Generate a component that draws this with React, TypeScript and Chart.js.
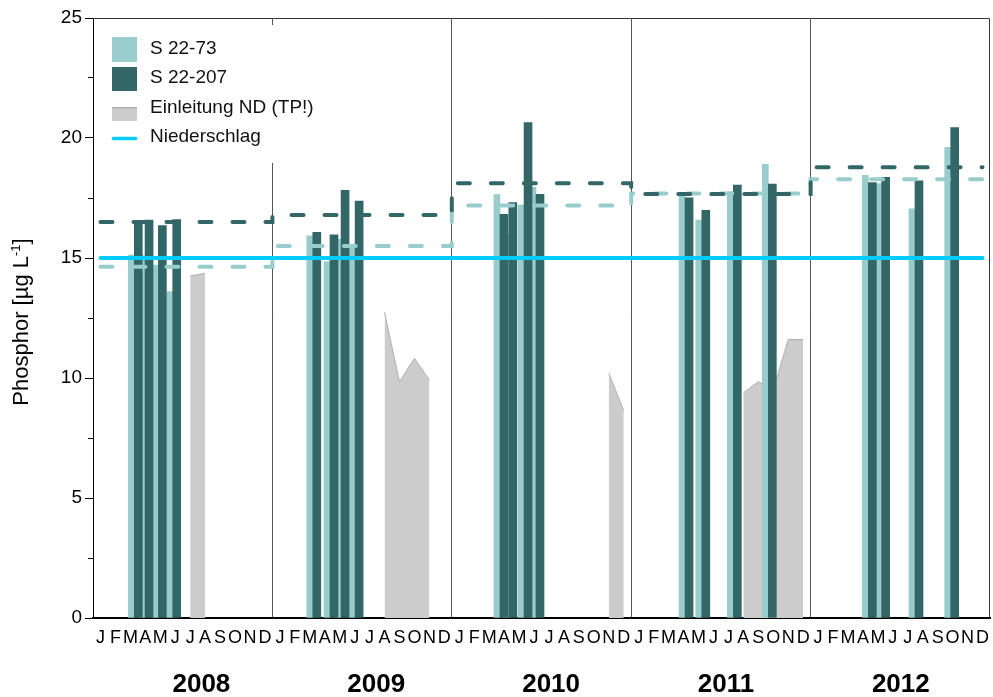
import React, { useEffect, useRef } from 'react';
import { Chart, registerables } from 'chart.js';

Chart.register(...registerables);

const FONT = 'Liberation Sans, Arial, Helvetica, sans-serif';

// axis labels
const monthLetters = ['J', 'F', 'M', 'A', 'M', 'J', 'J', 'A', 'S', 'O', 'N', 'D'];
const years = [2008, 2009, 2010, 2011, 2012];

// sampling dates, in months since 1 Jan 2008
const sampleMonths = [
  2.76, 3.48, 4.37, 5.33,
  14.7, 15.85, 16.59, 17.53,
  27.22, 27.81, 28.83, 29.63,
  39.6, 40.72, 42.83, 45.17,
  51.86, 52.75, 54.98, 57.37,
];
// S 22-73 (µg/L)
const s2273 = [
  15.12, 15.1, 14.7, 13.6,
  15.92, 14.85, 15.78, 15.5,
  17.64, 15.96, 17.2, 17.94,
  17.6, 16.58, 17.76, 18.9,
  18.44, 18.1, 17.05, 19.61,
];
// S 22-207 (µg/L)
const s22207 = [
  16.54, 16.58, 16.35, 16.6,
  16.07, 15.97, 17.82, 17.37,
  16.82, 17.31, 20.64, 17.65,
  17.51, 16.99, 18.04, 18.08,
  18.14, 18.36, 18.22, 20.43,
];
// yearly means (dashed lines)
const mean2273 = [14.64, 15.5, 17.19, 17.69, 18.28];
const mean22207 = [16.5, 16.79, 18.11, 17.67, 18.78];

// Einleitung ND (TP!) – monthly values, null = no inflow
const einleitungMonths = [6.5, 7.5, 8.5, 19.5, 20.5, 21.5, 22.5, 23.5, 34.5, 35.5, 36.5, 43.5, 44.5, 45.5, 46.5, 47.5];
const einleitungValues = [14.25, 14.36, null, 12.74, 9.85, 10.82, 9.92, null, 10.2, 8.65, null, 9.38, 9.85, 9.5, 11.6, 11.6];

// Niederschlag
const niederschlagMonths = [0.5, 59.5];
const niederschlagValues = [15, 15];

const LIGHT = '#99CCCC';
const DARK = '#336666';
const GREY = '#CCCCCC';
const CYAN = '#00CCFF';

export default function App() {
  const ref = useRef<HTMLCanvasElement>(null);

  useEffect(() => {
    document.body.style.margin = '0';
    const canvas = ref.current;
    if (!canvas) return;

    const LIGHT_SHIFT = 0.2;
    const DARK_SHIFT = 0.27;
    const lightData = sampleMonths.map((m, i) => ({ x: m - LIGHT_SHIFT, y: s2273[i] }));
    const darkData = sampleMonths.map((m, i) => ({ x: m + DARK_SHIFT, y: s22207[i] }));
    const stepXs = [0.5, ...years.slice(1).map((_, i) => (i + 1) * 12), 59.5];
    const stepLine = (means: number[]) =>
      stepXs.map((x, i) => ({ x, y: means[Math.min(i, means.length - 1)] }));
    const greyData = einleitungMonths.map((m, i) => ({ x: m, y: einleitungValues[i] }));
    const rainData = niederschlagMonths.map((m, i) => ({ x: m, y: niederschlagValues[i] }));

    const decor = {
      id: 'decor',
      afterDraw(chart: any) {
        const { ctx, chartArea: ca, scales } = chart;
        const ys = scales.y;
        const xs = scales.x;
        ctx.save();
        // frame
        ctx.strokeStyle = '#333';
        ctx.lineWidth = 1;
        ctx.beginPath();
        ctx.moveTo(ca.left, ca.top + 0.5);
        ctx.lineTo(ca.right - 0.5, ca.top + 0.5);
        ctx.lineTo(ca.right - 0.5, ca.bottom);
        ctx.stroke();
        // minor ticks on y
        ctx.strokeStyle = '#000';
        ctx.beginPath();
        for (let v = 2.5; v < 25; v += 5) {
          const py = Math.round(ys.getPixelForValue(v) - 0.5) + 0.5;
          ctx.moveTo(ca.left - 5, py);
          ctx.lineTo(ca.left, py);
        }
        ctx.stroke();

        // legend
        const lx = ca.left + 3;
        const ly = ca.top + 7;
        ctx.fillStyle = '#fff';
        ctx.fillRect(lx, ly, 247, 138);
        const sx = ca.left + 19;
        ctx.fillStyle = LIGHT;
        ctx.fillRect(sx, ca.top + 19, 25, 25);
        ctx.fillStyle = DARK;
        ctx.fillRect(sx, ca.top + 49, 25, 24);
        ctx.fillStyle = GREY;
        ctx.fillRect(sx, ca.top + 89, 25, 14);
        ctx.strokeStyle = '#B0B0B0';
        ctx.lineWidth = 1.5;
        ctx.beginPath();
        ctx.moveTo(sx, ca.top + 89.75);
        ctx.lineTo(sx + 25, ca.top + 89.75);
        ctx.stroke();
        ctx.strokeStyle = CYAN;
        ctx.lineWidth = 3.5;
        ctx.lineCap = 'round';
        ctx.beginPath();
        ctx.moveTo(sx + 1.5, ca.top + 120.5);
        ctx.lineTo(sx + 23.5, ca.top + 120.5);
        ctx.stroke();
        ctx.fillStyle = '#111';
        ctx.font = `19px ${FONT}`;
        ctx.textBaseline = 'middle';
        ctx.textAlign = 'left';
        const tx = ca.left + 57;
        ctx.fillText('S 22-73', tx, ca.top + 30.5);
        ctx.fillText('S 22-207', tx, ca.top + 60);
        ctx.fillText('Einleitung ND (TP!)', tx, ca.top + 90);
        ctx.fillText('Niederschlag', tx, ca.top + 118.5);

        // small top ticks at the year boundaries
        ctx.strokeStyle = '#555';
        ctx.lineWidth = 1;
        ctx.lineCap = 'butt';
        ctx.beginPath();
        for (let i = 1; i < years.length; i++) {
          const px = Math.round(xs.getPixelForValue(i * 12) - 0.5) + 0.5;
          ctx.moveTo(px, ca.top);
          ctx.lineTo(px, ca.top + 7);
        }
        ctx.stroke();

        // y title with superscript
        ctx.translate(22, (ca.top + ca.bottom) / 2 + 4);
        ctx.rotate(-Math.PI / 2);
        ctx.fillStyle = '#000';
        const mainTxt = 'Phosphor [µg L';
        const supTxt = '-1';
        const endTxt = ']';
        ctx.font = `22px ${FONT}`;
        const w1 = ctx.measureText(mainTxt).width;
        const w3 = ctx.measureText(endTxt).width;
        ctx.font = `13px ${FONT}`;
        const w2 = ctx.measureText(supTxt).width;
        const total = w1 + w2 + w3;
        let cx = -total / 2;
        ctx.font = `22px ${FONT}`;
        ctx.fillText(mainTxt, cx, 0);
        cx += w1;
        ctx.font = `13px ${FONT}`;
        ctx.fillText(supTxt, cx, -6);
        cx += w2;
        ctx.font = `22px ${FONT}`;
        ctx.fillText(endTxt, cx, 0);
        ctx.restore();
      },
    };

    const chart = new Chart(canvas, {
      type: 'bar',
      data: {
        datasets: [
          {
            type: 'line',
            label: 'Niederschlag',
            data: rainData,
            borderColor: CYAN,
            borderWidth: 4,
            borderCapStyle: 'round',
            pointRadius: 0,
            fill: false,
          },
          {
            type: 'line',
            label: 'Mittel S 22-207',
            data: stepLine(mean22207),
            borderColor: DARK,
            borderWidth: 4,
            borderDash: [12, 21],
            borderCapStyle: 'round',
            stepped: true,
            pointRadius: 0,
            fill: false,
          },
          {
            type: 'line',
            label: 'Mittel S 22-73',
            data: stepLine(mean2273),
            borderColor: LIGHT,
            borderWidth: 4,
            borderDash: [12, 21],
            borderCapStyle: 'round',
            stepped: true,
            pointRadius: 0,
            fill: false,
          },
          {
            type: 'bar',
            label: 'S 22-207',
            data: darkData,
            backgroundColor: DARK,
            barThickness: 8,
            grouped: false,
            borderWidth: 0,
          },
          {
            type: 'bar',
            label: 'S 22-73',
            data: lightData,
            backgroundColor: LIGHT,
            barThickness: 6,
            grouped: false,
            borderWidth: 0,
          },
          {
            type: 'line',
            label: 'Einleitung ND (TP!)',
            data: greyData,
            borderColor: '#B0B0B0',
            borderWidth: 1,
            backgroundColor: GREY,
            fill: 'origin',
            pointRadius: 0,
            spanGaps: false,
          },
        ] as any,
      },
      options: {
        responsive: false,
        animation: false,
        layout: { padding: { top: 18, right: 3, left: 0, bottom: 0 } },
        plugins: {
          legend: { display: false },
          tooltip: { enabled: false },
        },
        scales: {
          x: {
            type: 'linear',
            position: 'bottom',
            weight: 0,
            min: 0,
            max: 60,
            offset: false,
            afterBuildTicks: (s: any) => {
              s.ticks = Array.from({ length: 121 }, (_, i) => ({ value: i / 2 }));
            },
            afterFit: (s: any) => {
              s.height = 40;
              s.paddingLeft = 0;
              s.paddingRight = 0;
            },
            ticks: {
              autoSkip: false,
              maxRotation: 0,
              minRotation: 0,
              padding: 9,
              color: '#000',
              font: { family: FONT, size: 18 },
              callback: (v: any) => {
                const n = Number(v);
                return n % 1 === 0.5 ? monthLetters[Math.floor(n) % 12] : '';
              },
            },
            grid: {
              drawTicks: false,
              offset: false,
              lineWidth: 1,
              color: (c: any) => {
                const v = c.tick ? c.tick.value : -1;
                return v > 0 && v < 60 && v % 12 === 0 ? '#555' : 'rgba(0,0,0,0)';
              },
            },
            border: { display: true, color: '#000', width: 2 },
          },
          xYears: {
            type: 'linear',
            position: 'bottom',
            weight: 1,
            min: 2007.38,
            max: 2012.51,
            offset: false,
            afterBuildTicks: (s: any) => {
              s.ticks = years.map((y) => ({ value: y }));
            },
            afterFit: (s: any) => {
              s.height = 39;
              s.paddingLeft = 0;
              s.paddingRight = 0;
            },
            grid: { display: false, drawTicks: false },
            border: { display: false },
            ticks: {
              autoSkip: false,
              maxRotation: 0,
              minRotation: 0,
              padding: 11,
              color: '#000',
              font: { family: FONT, size: 26, weight: 'bold' },
              callback: (v: any) => String(v),
            },
          },
          y: {
            type: 'linear',
            min: 0,
            max: 25,
            afterFit: (s: any) => {
              s.width = 93;
              s.paddingTop = 0;
              s.paddingBottom = 0;
            },
            ticks: {
              stepSize: 5,
              padding: 3,
              color: '#000',
              font: { family: FONT, size: 19 },
            },
            grid: { drawOnChartArea: false, drawTicks: true, tickLength: 8, color: '#000' },
            border: { display: true, color: '#000', width: 1 },
          },
        },
      } as any,
      plugins: [decor],
    });

    return () => chart.destroy();
  }, []);

  return (
    <div style={{ width: 993, height: 697 }}>
      <canvas ref={ref} width={993} height={697} />
    </div>
  );
}
